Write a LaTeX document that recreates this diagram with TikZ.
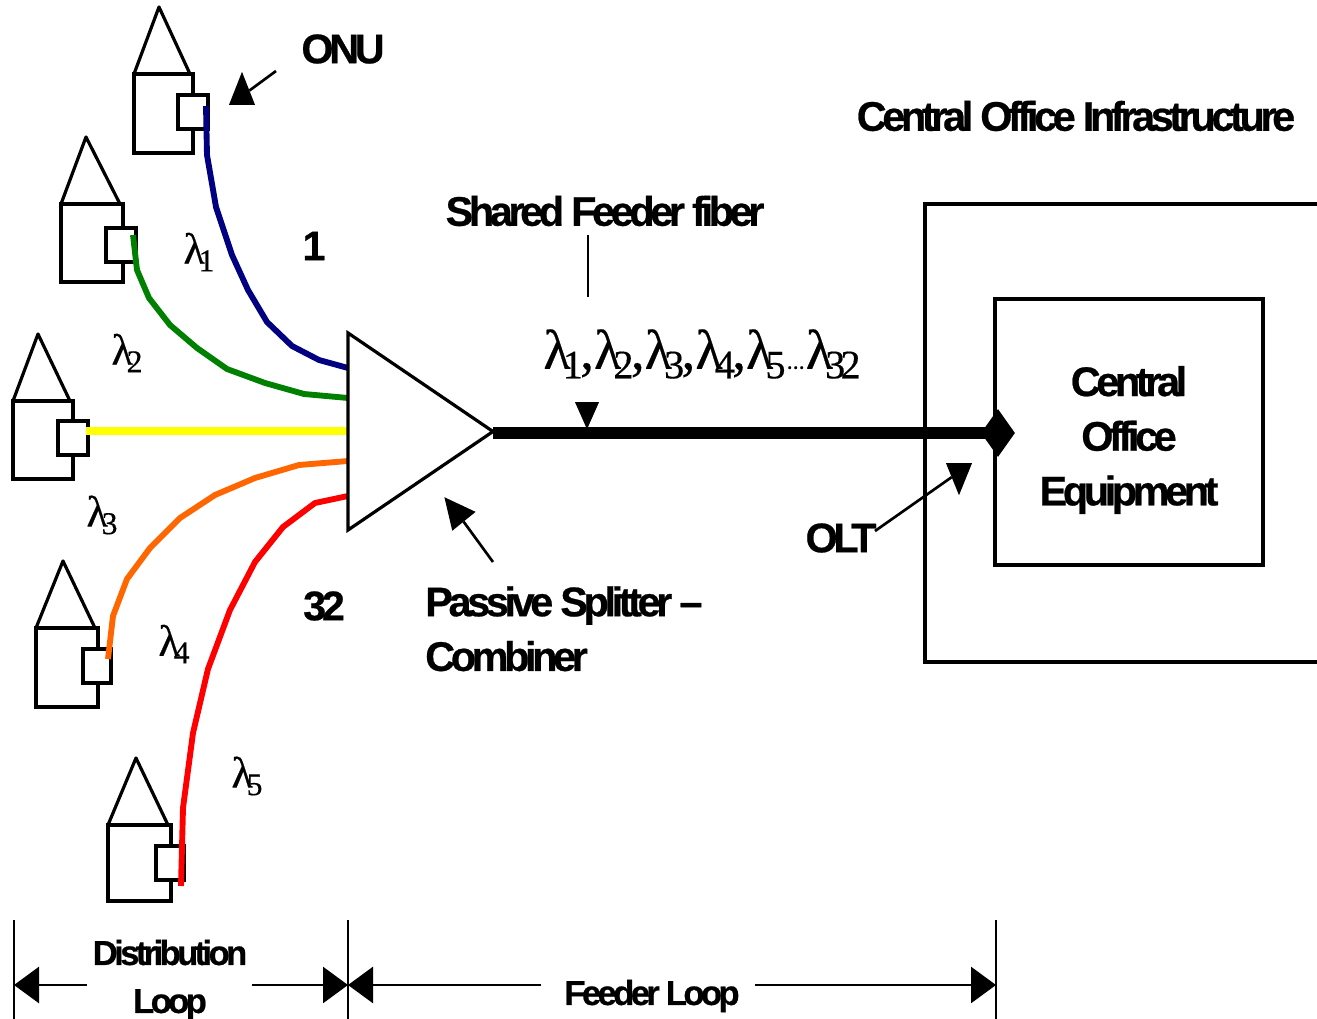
\documentclass[tikz,border=0pt]{standalone}
\usepackage{fontspec}
\setsansfont{Liberation Sans}[LetterSpace=-10.5,BoldFeatures={FakeBold=0.6}]
\newfontfamily\lamfont[FakeBold=0.4]{Liberation Serif}
\usepackage{xcolor}
\usetikzlibrary{calc}
\usetikzlibrary{arrows.meta}
\usetikzlibrary{shapes.geometric}
\definecolor{fibNavy}{RGB}{0,0,128}
\definecolor{fibGreen}{RGB}{0,128,0}
\definecolor{fibYellow}{RGB}{255,255,0}
\definecolor{fibOrange}{RGB}{255,102,0}
\definecolor{fibRed}{RGB}{255,0,0}
\newcommand{\lam}[1]{λ\kern-.14em\raisebox{-.17em}{\scalebox{.72}{#1}}}
\tikzset{
	boxline/.style={draw,line width=2.4pt,inner sep=0pt,outer sep=0pt},
	fiber/.style={line width=4.4pt,line join=round},
	marker/.style={isosceles triangle,isosceles triangle stretches,fill=black,inner sep=0pt,outer sep=0pt},
	plainline/.style={line width=2pt},
	dimline/.style={line width=2pt,-{Triangle[length=18.75pt,width=27pt]}},
	biglabel/.style={font=\sffamily\bfseries\fontsize{31}{41}\selectfont,align=center,inner sep=0pt},
	smalllabel/.style={font=\sffamily\bfseries\fontsize{26}{36}\selectfont,align=center,inner sep=0pt},
	lamlabel/.style={font=\lamfont\fontsize{33}{33}\selectfont,inner sep=0pt},
}
\begin{document}
\begin{tikzpicture}[x=0.75pt,y=-0.75pt]
	\useasboundingbox (0,0) rectangle (1317,1019);
	% houses
	\foreach \id/\x/\y/\w/\h/\bx/\by/\bw/\ax in {1/134/74/59/79/178/95/30/25,2/61/204/62/78/106/228/30/25,3/13/401/60/78/58/421/30/25,4/36/628/62/79/83/649/28/27,5/108/825/63/76/156/846/28/28} {
		\node[boxline,anchor=north west,minimum width=\w*0.75pt,minimum height=\h*0.75pt] (body\id) at (\x,\y) {};
		\draw[line width=2.4pt,line join=round] (\x,\y) -- (\x+\ax,\y-67) -- (\x+\w-3,\y);
		\node[boxline,fill=white,anchor=north west,minimum width=\bw*0.75pt,minimum height=34*0.75pt] (onu\id) at (\bx,\by) {};
	}
	% splitter ends of the fibers
	\coordinate (fib1) at (206,106);
	\coordinate (fib2) at (133,235);
	\coordinate (fib3) at (86,431);
	\coordinate (fib4) at (108,659);
	\coordinate (fib5) at (181,886);
	\coordinate (s1) at (348,368);
	\coordinate (s2) at (348,398);
	\coordinate (s3) at (348,431);
	\coordinate (s4) at (348,461);
	\coordinate (s5) at (348,496);
	\draw[fiber,fibNavy] (fib1) -- (207,155) -- (216,207) -- (232,255) -- (248,290) -- (267,322) -- (292,346) -- (319,360) -- (s1);
	\draw[fiber,fibGreen] (fib2) -- (137,270) -- (149,298) -- (170,325) -- (197,348) -- (227,369) -- (265,383) -- (304,394) -- (s2);
	\draw[fiber,fibYellow,line width=5.5pt] (fib3) -- (s3);
	\draw[fiber,fibOrange] (fib4) -- (113,616) -- (127,579) -- (150,548) -- (180,518) -- (215,495) -- (255,478) -- (299,465) -- (s4);
	\draw[fiber,fibRed] (fib5) -- (183,808) -- (193,733) -- (208,669) -- (230,610) -- (255,562) -- (283,527) -- (315,503) -- (s5);
	% splitter
	\node[draw,line width=2.4pt,isosceles triangle,isosceles triangle apex angle=68.4,minimum height=145*0.75pt,inner sep=0pt,outer sep=0pt,anchor=lower side] (splitter) at (348,431.5) {};
	% central office
	\coordinate (outerTR) at (1317,204);
	\coordinate (outerTL) at (925,204);
	\coordinate (outerBL) at (925,662);
	\coordinate (outerBR) at (1317,662);
	\draw[line width=2.4pt] (outerTR) -- (outerTL) -- (outerBL) -- (outerBR);
	\node[boxline,minimum width=268*0.75pt,minimum height=266*0.75pt] (equip) at (1129,432) {};
	\node[biglabel] (equipText) at (1129,440) {Central\\Office\\Equipment};
	\node[diamond,fill=black,inner sep=0pt,minimum width=34*0.75pt,minimum height=48*0.75pt] (olt) at (998,433) {};
	\draw[line width=8.8pt] (splitter.apex |- olt.center) -- (olt.center);
	% labels
	\node[biglabel] (onuText) at (343,49) {ONU};
	\node[biglabel] (coText) at (1076,116) {Central Office Infrastructure};
	\node[biglabel] (sharedText) at (605,211) {Shared Feeder fiber};
	\node[biglabel] (oneText) at (314,246) {1};
	\node[biglabel] (lastText) at (324,606) {32};
	\node[biglabel] (oltText) at (841,538) {OLT};
	\node[biglabel,align=left,anchor=north west] (splitText) at (425,586) {Passive Splitter --\\Combiner};
	\node[lamlabel] (lam1) at (199,252) {\lam{1}};
	\node[lamlabel] (lam2) at (127,353) {\lam{2}};
	\node[lamlabel] (lam3) at (102,515) {\lam{3}};
	\node[lamlabel] (lam4) at (174,644) {\lam{4}};
	\node[lamlabel] (lam5) at (247,776) {\lam{5}};
	\node[lamlabel,font=\lamfont\fontsize{42}{42}\selectfont] (lamAll) at (702,354) {\lam{1}\kern-.05em,\lam{2}\kern-.05em,\lam{3}\kern-.05em,\lam{4}\kern-.05em,\lam{5}\kern.02em{\fontsize{18}{18}\selectfont...}\kern.02em\lam{3\kern-.12em 2}};
	% pointers
	\node[marker,shape border rotate=90,minimum width=26*0.75pt,minimum height=33*0.75pt] (onuTip) at (242,96) {};
	\coordinate (onuFrom) at (276,71);
	\draw[plainline] (onuFrom) -- (onuTip);
	\node[marker,shape border rotate=-90,minimum width=24*0.75pt,minimum height=27*0.75pt] (feedTip) at (587,410) {};
	\coordinate (feedFrom) at (588,235);
	\coordinate (feedTo) at (588,297);
	\draw[plainline] (feedFrom) -- (feedTo);
	\node[marker,shape border rotate=-90,minimum width=26*0.75pt,minimum height=32*0.75pt] (oltTip) at (959,472) {};
	\coordinate (oltFrom) at (875,531);
	\draw[plainline] (oltFrom) -- (oltTip);
	\node[marker,rotate=129,minimum width=30*0.75pt,minimum height=31*0.75pt] (splitTip) at (458,514) {};
	\coordinate (splitFrom) at (493,562);
	\draw[plainline] (splitFrom) -- (splitTip);
	% loops at the bottom
	\coordinate (dimA) at (14,985);
	\coordinate (dimB) at (348,985);
	\coordinate (dimC) at (996,985);
	\foreach \dim/\xx in {dimA/14,dimB/348,dimC/996} {
		\draw[line width=1.8pt] (\xx,920) -- (\xx,1019);
	}
	\node[smalllabel] (distText) at (170,980) {Distribution\\Loop};
	\node[smalllabel] (feedText) at (652,996) {Feeder Loop};
	\coordinate (distL) at (87,985);
	\coordinate (distR) at (252,985);
	\coordinate (feedL) at (541,985);
	\coordinate (feedR) at (755,985);
	\draw[dimline] (distL) -- (dimA);
	\draw[dimline] (distR) -- (dimB);
	\draw[dimline] (feedL) -- (dimB);
	\draw[dimline] (feedR) -- (dimC);
\end{tikzpicture}
\end{document}
